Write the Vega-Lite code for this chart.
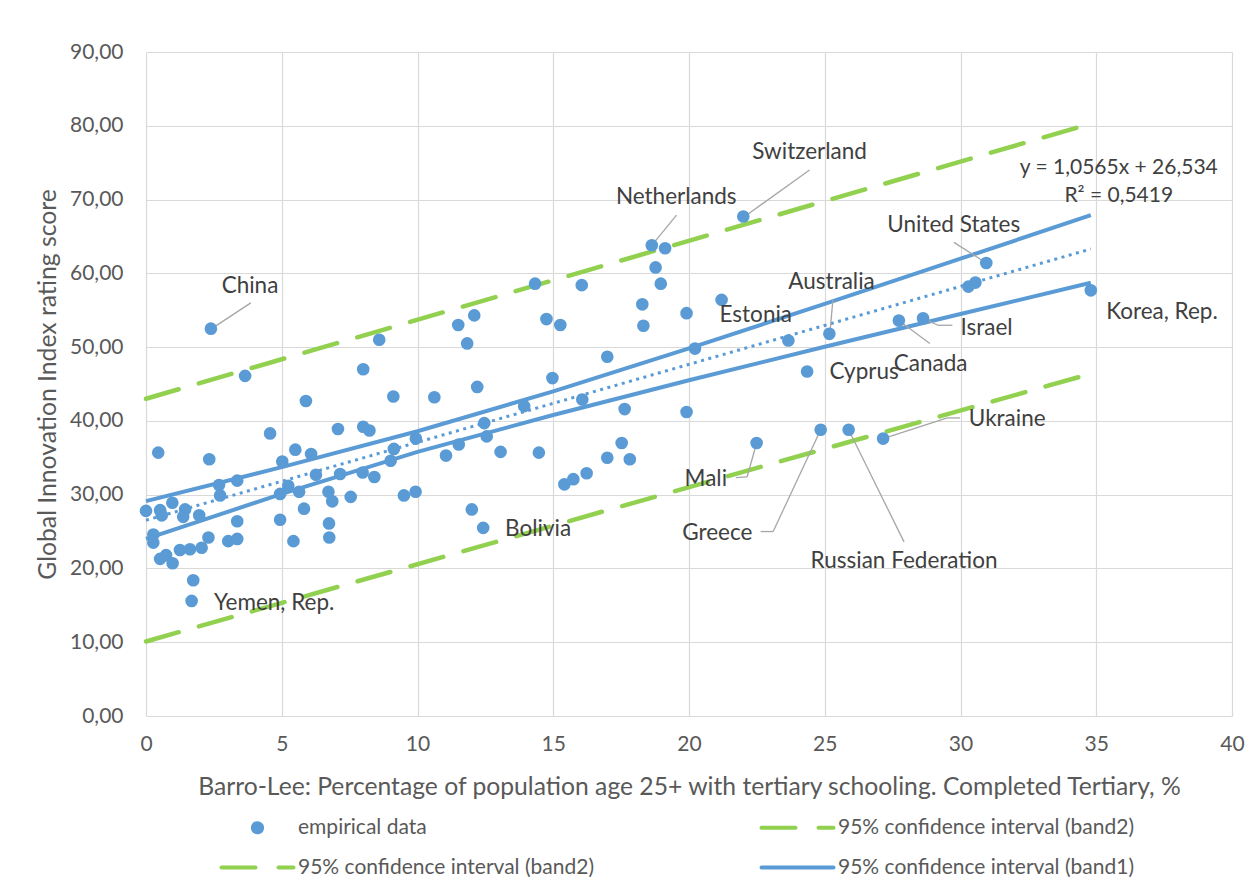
{
  "$schema": "https://vega.github.io/schema/vega-lite/v6.json",
  "width": 1086,
  "height": 664,
  "autosize": {"type": "none"},
  "padding": {"left": 146, "top": 52, "right": 27, "bottom": 179},
  "background": "white",
  "config": {
    "font": "Lato",
    "view": {"stroke": null},
    "axis": {
      "grid": true,
      "gridColor": "#D9D9D9",
      "gridWidth": 1.2,
      "domain": false,
      "ticks": false,
      "labelFontSize": 21,
      "labelColor": "#595959",
      "titleFontSize": 24.7,
      "titleFontWeight": "normal",
      "titleColor": "#595959"
    }
  },
  "datasets": {
    "points": [
      {"x": 2.39, "y": 52.5, "series": "a"},
      {"x": 8.59, "y": 51.0, "series": "a"},
      {"x": 3.65, "y": 46.1, "series": "a"},
      {"x": 8.0, "y": 47.0, "series": "a"},
      {"x": 9.11, "y": 43.3, "series": "a"},
      {"x": 5.89, "y": 42.7, "series": "a"},
      {"x": 0.45, "y": 35.7, "series": "a"},
      {"x": 4.57, "y": 38.3, "series": "a"},
      {"x": 2.33, "y": 34.8, "series": "a"},
      {"x": 7.07, "y": 38.9, "series": "a"},
      {"x": 8.0, "y": 39.2, "series": "a"},
      {"x": 8.23, "y": 38.7, "series": "a"},
      {"x": 9.13, "y": 36.2, "series": "a"},
      {"x": 5.5, "y": 36.1, "series": "a"},
      {"x": 6.08, "y": 35.5, "series": "a"},
      {"x": 5.02, "y": 34.5, "series": "a"},
      {"x": 3.36, "y": 31.9, "series": "a"},
      {"x": 2.69, "y": 31.3, "series": "a"},
      {"x": 2.73, "y": 29.9, "series": "a"},
      {"x": 0.97, "y": 28.9, "series": "a"},
      {"x": 0.0, "y": 27.8, "series": "a"},
      {"x": 0.52, "y": 27.9, "series": "a"},
      {"x": 0.58, "y": 27.2, "series": "a"},
      {"x": 1.44, "y": 28.0, "series": "a"},
      {"x": 1.37, "y": 27.0, "series": "a"},
      {"x": 1.96, "y": 27.2, "series": "a"},
      {"x": 3.36, "y": 26.4, "series": "a"},
      {"x": 4.94, "y": 30.1, "series": "a"},
      {"x": 5.24, "y": 31.2, "series": "a"},
      {"x": 5.64, "y": 30.4, "series": "a"},
      {"x": 6.26, "y": 32.7, "series": "a"},
      {"x": 7.15, "y": 32.8, "series": "a"},
      {"x": 7.98, "y": 33.0, "series": "a"},
      {"x": 8.41, "y": 32.4, "series": "a"},
      {"x": 9.01, "y": 34.6, "series": "a"},
      {"x": 6.72, "y": 30.4, "series": "a"},
      {"x": 6.86, "y": 29.1, "series": "a"},
      {"x": 7.54, "y": 29.7, "series": "a"},
      {"x": 5.82, "y": 28.1, "series": "a"},
      {"x": 4.94, "y": 26.6, "series": "a"},
      {"x": 6.74, "y": 26.1, "series": "a"},
      {"x": 6.75, "y": 24.2, "series": "a"},
      {"x": 5.43, "y": 23.7, "series": "a"},
      {"x": 0.27, "y": 24.6, "series": "a"},
      {"x": 0.27, "y": 23.5, "series": "a"},
      {"x": 2.3, "y": 24.2, "series": "a"},
      {"x": 3.03, "y": 23.7, "series": "a"},
      {"x": 3.36, "y": 24.0, "series": "a"},
      {"x": 1.25, "y": 22.5, "series": "a"},
      {"x": 1.62, "y": 22.6, "series": "a"},
      {"x": 2.05, "y": 22.8, "series": "a"},
      {"x": 0.52, "y": 21.3, "series": "a"},
      {"x": 0.74, "y": 21.8, "series": "a"},
      {"x": 0.98, "y": 20.7, "series": "a"},
      {"x": 1.74, "y": 18.4, "series": "a"},
      {"x": 1.68, "y": 15.6, "series": "a"},
      {"x": 9.5, "y": 29.9, "series": "a"},
      {"x": 9.93, "y": 30.4, "series": "a"},
      {"x": 11.5, "y": 53.0, "series": "a"},
      {"x": 12.09, "y": 54.3, "series": "a"},
      {"x": 11.83, "y": 50.5, "series": "a"},
      {"x": 10.62, "y": 43.2, "series": "a"},
      {"x": 12.2, "y": 44.6, "series": "a"},
      {"x": 9.94, "y": 37.6, "series": "a"},
      {"x": 12.46, "y": 39.7, "series": "a"},
      {"x": 11.52, "y": 36.8, "series": "a"},
      {"x": 11.05, "y": 35.3, "series": "a"},
      {"x": 12.55, "y": 37.9, "series": "a"},
      {"x": 13.06, "y": 35.8, "series": "a"},
      {"x": 12.0, "y": 28.0, "series": "a"},
      {"x": 12.42, "y": 25.5, "series": "a"},
      {"x": 14.33, "y": 58.6, "series": "a"},
      {"x": 16.05, "y": 58.4, "series": "a"},
      {"x": 18.77, "y": 60.8, "series": "a"},
      {"x": 18.96, "y": 58.6, "series": "a"},
      {"x": 18.28, "y": 55.8, "series": "a"},
      {"x": 18.32, "y": 52.9, "series": "a"},
      {"x": 19.91, "y": 54.6, "series": "a"},
      {"x": 14.75, "y": 53.8, "series": "a"},
      {"x": 15.26, "y": 53.0, "series": "a"},
      {"x": 16.99, "y": 48.7, "series": "a"},
      {"x": 14.97, "y": 45.8, "series": "a"},
      {"x": 20.22, "y": 49.8, "series": "a"},
      {"x": 13.93, "y": 42.0, "series": "a"},
      {"x": 16.07, "y": 42.9, "series": "a"},
      {"x": 17.63, "y": 41.6, "series": "a"},
      {"x": 19.91, "y": 41.2, "series": "a"},
      {"x": 14.47, "y": 35.7, "series": "a"},
      {"x": 17.52, "y": 37.0, "series": "a"},
      {"x": 16.99, "y": 35.0, "series": "a"},
      {"x": 17.82, "y": 34.8, "series": "a"},
      {"x": 16.23, "y": 32.9, "series": "a"},
      {"x": 15.74, "y": 32.1, "series": "a"},
      {"x": 15.41, "y": 31.4, "series": "a"},
      {"x": 22.0, "y": 67.7, "series": "a"},
      {"x": 18.63, "y": 63.8, "series": "a"},
      {"x": 19.12, "y": 63.4, "series": "a"},
      {"x": 21.2, "y": 56.4, "series": "a"},
      {"x": 23.66, "y": 50.9, "series": "a"},
      {"x": 25.17, "y": 51.8, "series": "a"},
      {"x": 24.35, "y": 46.7, "series": "a"},
      {"x": 22.49, "y": 37.0, "series": "a"},
      {"x": 24.85, "y": 38.8, "series": "a"},
      {"x": 25.88, "y": 38.8, "series": "a"},
      {"x": 27.15, "y": 37.6, "series": "a"},
      {"x": 30.95, "y": 61.4, "series": "a"},
      {"x": 30.55, "y": 58.75, "series": "a"},
      {"x": 30.29, "y": 58.2, "series": "a"},
      {"x": 34.8, "y": 57.7, "series": "a"},
      {"x": 27.73, "y": 53.6, "series": "a"},
      {"x": 28.62, "y": 53.9, "series": "a"}
    ],
    "green": [
      {"x": 0, "y": 43.0, "line": "upper", "series": "b"},
      {"x": 17, "y": 61.2, "line": "upper", "series": "b"},
      {"x": 34.8, "y": 80.3, "line": "upper", "series": "b"},
      {"x": 0, "y": 10.1, "line": "lower", "series": "c"},
      {"x": 17, "y": 27.9, "line": "lower", "series": "c"},
      {"x": 34.8, "y": 46.4, "line": "lower", "series": "c"}
    ],
    "blue": [
      {"x": 0, "y": 29.13, "line": "upper", "series": "d"},
      {"x": 5, "y": 33.73, "line": "upper", "series": "d"},
      {"x": 10, "y": 38.6, "line": "upper", "series": "d"},
      {"x": 15, "y": 43.99, "line": "upper", "series": "d"},
      {"x": 20, "y": 49.82, "line": "upper", "series": "d"},
      {"x": 25, "y": 55.86, "line": "upper", "series": "d"},
      {"x": 30, "y": 61.98, "line": "upper", "series": "d"},
      {"x": 34.8, "y": 67.88, "line": "upper", "series": "d"},
      {"x": 0, "y": 24.0, "line": "lower", "series": "d"},
      {"x": 5, "y": 30.1, "line": "lower", "series": "d"},
      {"x": 10, "y": 35.8, "line": "lower", "series": "d"},
      {"x": 15, "y": 40.8, "line": "lower", "series": "d"},
      {"x": 20, "y": 45.5, "line": "lower", "series": "d"},
      {"x": 25, "y": 50.04, "line": "lower", "series": "d"},
      {"x": 30, "y": 54.48, "line": "lower", "series": "d"},
      {"x": 34.8, "y": 58.72, "line": "lower", "series": "d"}
    ],
    "trend": [
      {"x": 0, "y": 26.534},
      {"x": 34.8, "y": 63.30}
    ],
    "leaders": [
      {"x": 2.42, "y": 52.5, "x2": 3.86, "y2": 56.0},
      {"x": 22.05, "y": 67.7, "x2": 24.44, "y2": 74.0},
      {"x": 18.63, "y": 63.8, "x2": 19.54, "y2": 67.9},
      {"x": 30.95, "y": 61.4, "x2": 29.76, "y2": 64.2},
      {"x": 25.2, "y": 52.3, "x2": 25.3, "y2": 56.4},
      {"x": 28.62, "y": 53.9, "x2": 29.17, "y2": 52.96},
      {"x": 29.17, "y": 52.96, "x2": 29.7, "y2": 52.96},
      {"x": 27.73, "y": 53.6, "x2": 28.87, "y2": 50.5},
      {"x": 27.15, "y": 37.6, "x2": 29.51, "y2": 40.4},
      {"x": 29.51, "y": 40.4, "x2": 29.98, "y2": 40.4},
      {"x": 22.49, "y": 37.0, "x2": 22.14, "y2": 32.4},
      {"x": 22.14, "y": 32.4, "x2": 21.73, "y2": 32.3},
      {"x": 24.85, "y": 38.8, "x2": 23.1, "y2": 25.0},
      {"x": 23.1, "y": 25.0, "x2": 22.64, "y2": 25.0},
      {"x": 25.88, "y": 38.8, "x2": 27.92, "y2": 23.6}
    ],
    "labels": [
      {"x": 3.83, "y": 58.3, "text": "China"},
      {"x": 24.44, "y": 76.4, "text": "Switzerland"},
      {"x": 19.53, "y": 70.3, "text": "Netherlands"},
      {"x": 29.75, "y": 66.5, "text": "United States"},
      {"x": 25.25, "y": 58.8, "text": "Australia"},
      {"x": 22.46, "y": 54.3, "text": "Estonia"},
      {"x": 30.96, "y": 52.65, "text": "Israel"},
      {"x": 28.9, "y": 47.7, "text": "Canada"},
      {"x": 26.45, "y": 46.6, "text": "Cyprus"},
      {"x": 37.42, "y": 54.8, "text": "Korea, Rep."},
      {"x": 31.72, "y": 40.2, "text": "Ukraine"},
      {"x": 20.62, "y": 32.1, "text": "Mali"},
      {"x": 21.04, "y": 24.8, "text": "Greece"},
      {"x": 27.92, "y": 21.0, "text": "Russian Federation"},
      {"x": 14.44, "y": 25.4, "text": "Bolivia"},
      {"x": 4.72, "y": 15.25, "text": "Yemen, Rep."}
    ],
    "equation": [
      {"x": 35.83, "y": 74.34, "text": "y = 1,0565x + 26,534"},
      {"x": 35.83, "y": 70.45, "text": "R² = 0,5419"}
    ]
  },
  "encoding": {
    "x": {
      "field": "x",
      "type": "quantitative",
      "scale": {"domain": [0, 40], "nice": false},
      "axis": {
        "title": "Barro-Lee: Percentage of population age 25+ with tertiary schooling. Completed Tertiary, %",
        "values": [0, 5, 10, 15, 20, 25, 30, 35, 40],
        "labelPadding": 17,
        "titlePadding": 20,
        "labelFlush": false
      }
    },
    "y": {
      "field": "y",
      "type": "quantitative",
      "scale": {"domain": [0, 90], "nice": false},
      "axis": {
        "title": "Global Innovation Index rating score",
        "values": [0, 10, 20, 30, 40, 50, 60, 70, 80, 90],
        "labelExpr": "replace(format(datum.value, '.2f'), '.', ',')",
        "labelPadding": 23,
        "titlePadding": 9
      }
    }
  },
  "layer": [
    {
      "data": {"name": "green"},
      "mark": {"type": "line", "strokeWidth": 4.5, "strokeDash": [34, 21], "strokeCap": "round"},
      "encoding": {
        "detail": {"field": "line"},
        "color": {
          "field": "series",
          "type": "nominal",
          "scale": {"domain": ["a", "b", "c", "d"], "range": ["#5B9BD5", "#92D050", "#92D050", "#5B9BD5"]},
          "legend": {
            "title": null,
            "orient": "none",
            "legendX": 101,
            "legendY": 765,
            "columns": 2,
            "columnPadding": 158,
            "rowPadding": 18,
            "padding": 0,
            "symbolSize": 400,
            "symbolStrokeWidth": 4,
            "symbolOffset": 0,
            "labelOffset": 30,
            "labelFontSize": 21,
            "labelColor": "#595959",
            "labelLimit": 600,
            "labelExpr": "datum.value === 'a' ? 'empirical data' : (datum.value === 'd' ? '95% confidence interval (band1)' : '95% confidence interval (band2)')",
            "encode": {
              "symbols": {
                "update": {
                  "shape": {"signal": "datum.value === 'a' ? 'M-0.66,0A0.66,0.66 0 1,0 0.66,0A0.66,0.66 0 1,0 -0.66,0Z' : 'M-3.6,0L3.6,0'"},
                  "fill": {"signal": "datum.value === 'a' ? '#5B9BD5' : 'transparent'"},
                  "stroke": {"signal": "datum.value === 'a' ? 'transparent' : (datum.value === 'd' ? '#5B9BD5' : '#92D050')"},
                  "strokeWidth": {"signal": "datum.value === 'a' ? 0 : 4"},
                  "strokeDash": {"signal": "(datum.value === 'b' || datum.value === 'c') ? [34, 23] : [1, 0]"},
                  "strokeCap": {"value": "round"},
                  "size": {"value": 400},
                  "opacity": {"value": 1}
                }
              }
            }
          }
        }
      }
    },
    {
      "data": {"name": "blue"},
      "mark": {"type": "line", "strokeWidth": 4},
      "encoding": {
        "detail": {"field": "line"},
        "color": {"field": "series", "type": "nominal"}
      }
    },
    {
      "data": {"name": "trend"},
      "mark": {"type": "line", "strokeWidth": 3, "strokeDash": [3, 4.5], "color": "#5B9BD5"},
      "encoding": {}
    },
    {
      "data": {"name": "leaders"},
      "mark": {"type": "rule", "color": "#A6A6A6", "strokeWidth": 1.3},
      "encoding": {
        "x2": {"field": "x2"},
        "y2": {"field": "y2"}
      }
    },
    {
      "data": {"name": "points"},
      "mark": {"type": "circle", "size": 160, "opacity": 1},
      "encoding": {
        "color": {"field": "series", "type": "nominal"}
      }
    },
    {
      "data": {"name": "labels"},
      "mark": {"type": "text", "fontSize": 22.5, "color": "#404040", "align": "center", "baseline": "middle"},
      "encoding": {
        "text": {"field": "text"}
      }
    },
    {
      "data": {"name": "equation"},
      "mark": {"type": "text", "fontSize": 21, "color": "#404040", "align": "center", "baseline": "middle"},
      "encoding": {
        "text": {"field": "text"}
      }
    }
  ]
}
